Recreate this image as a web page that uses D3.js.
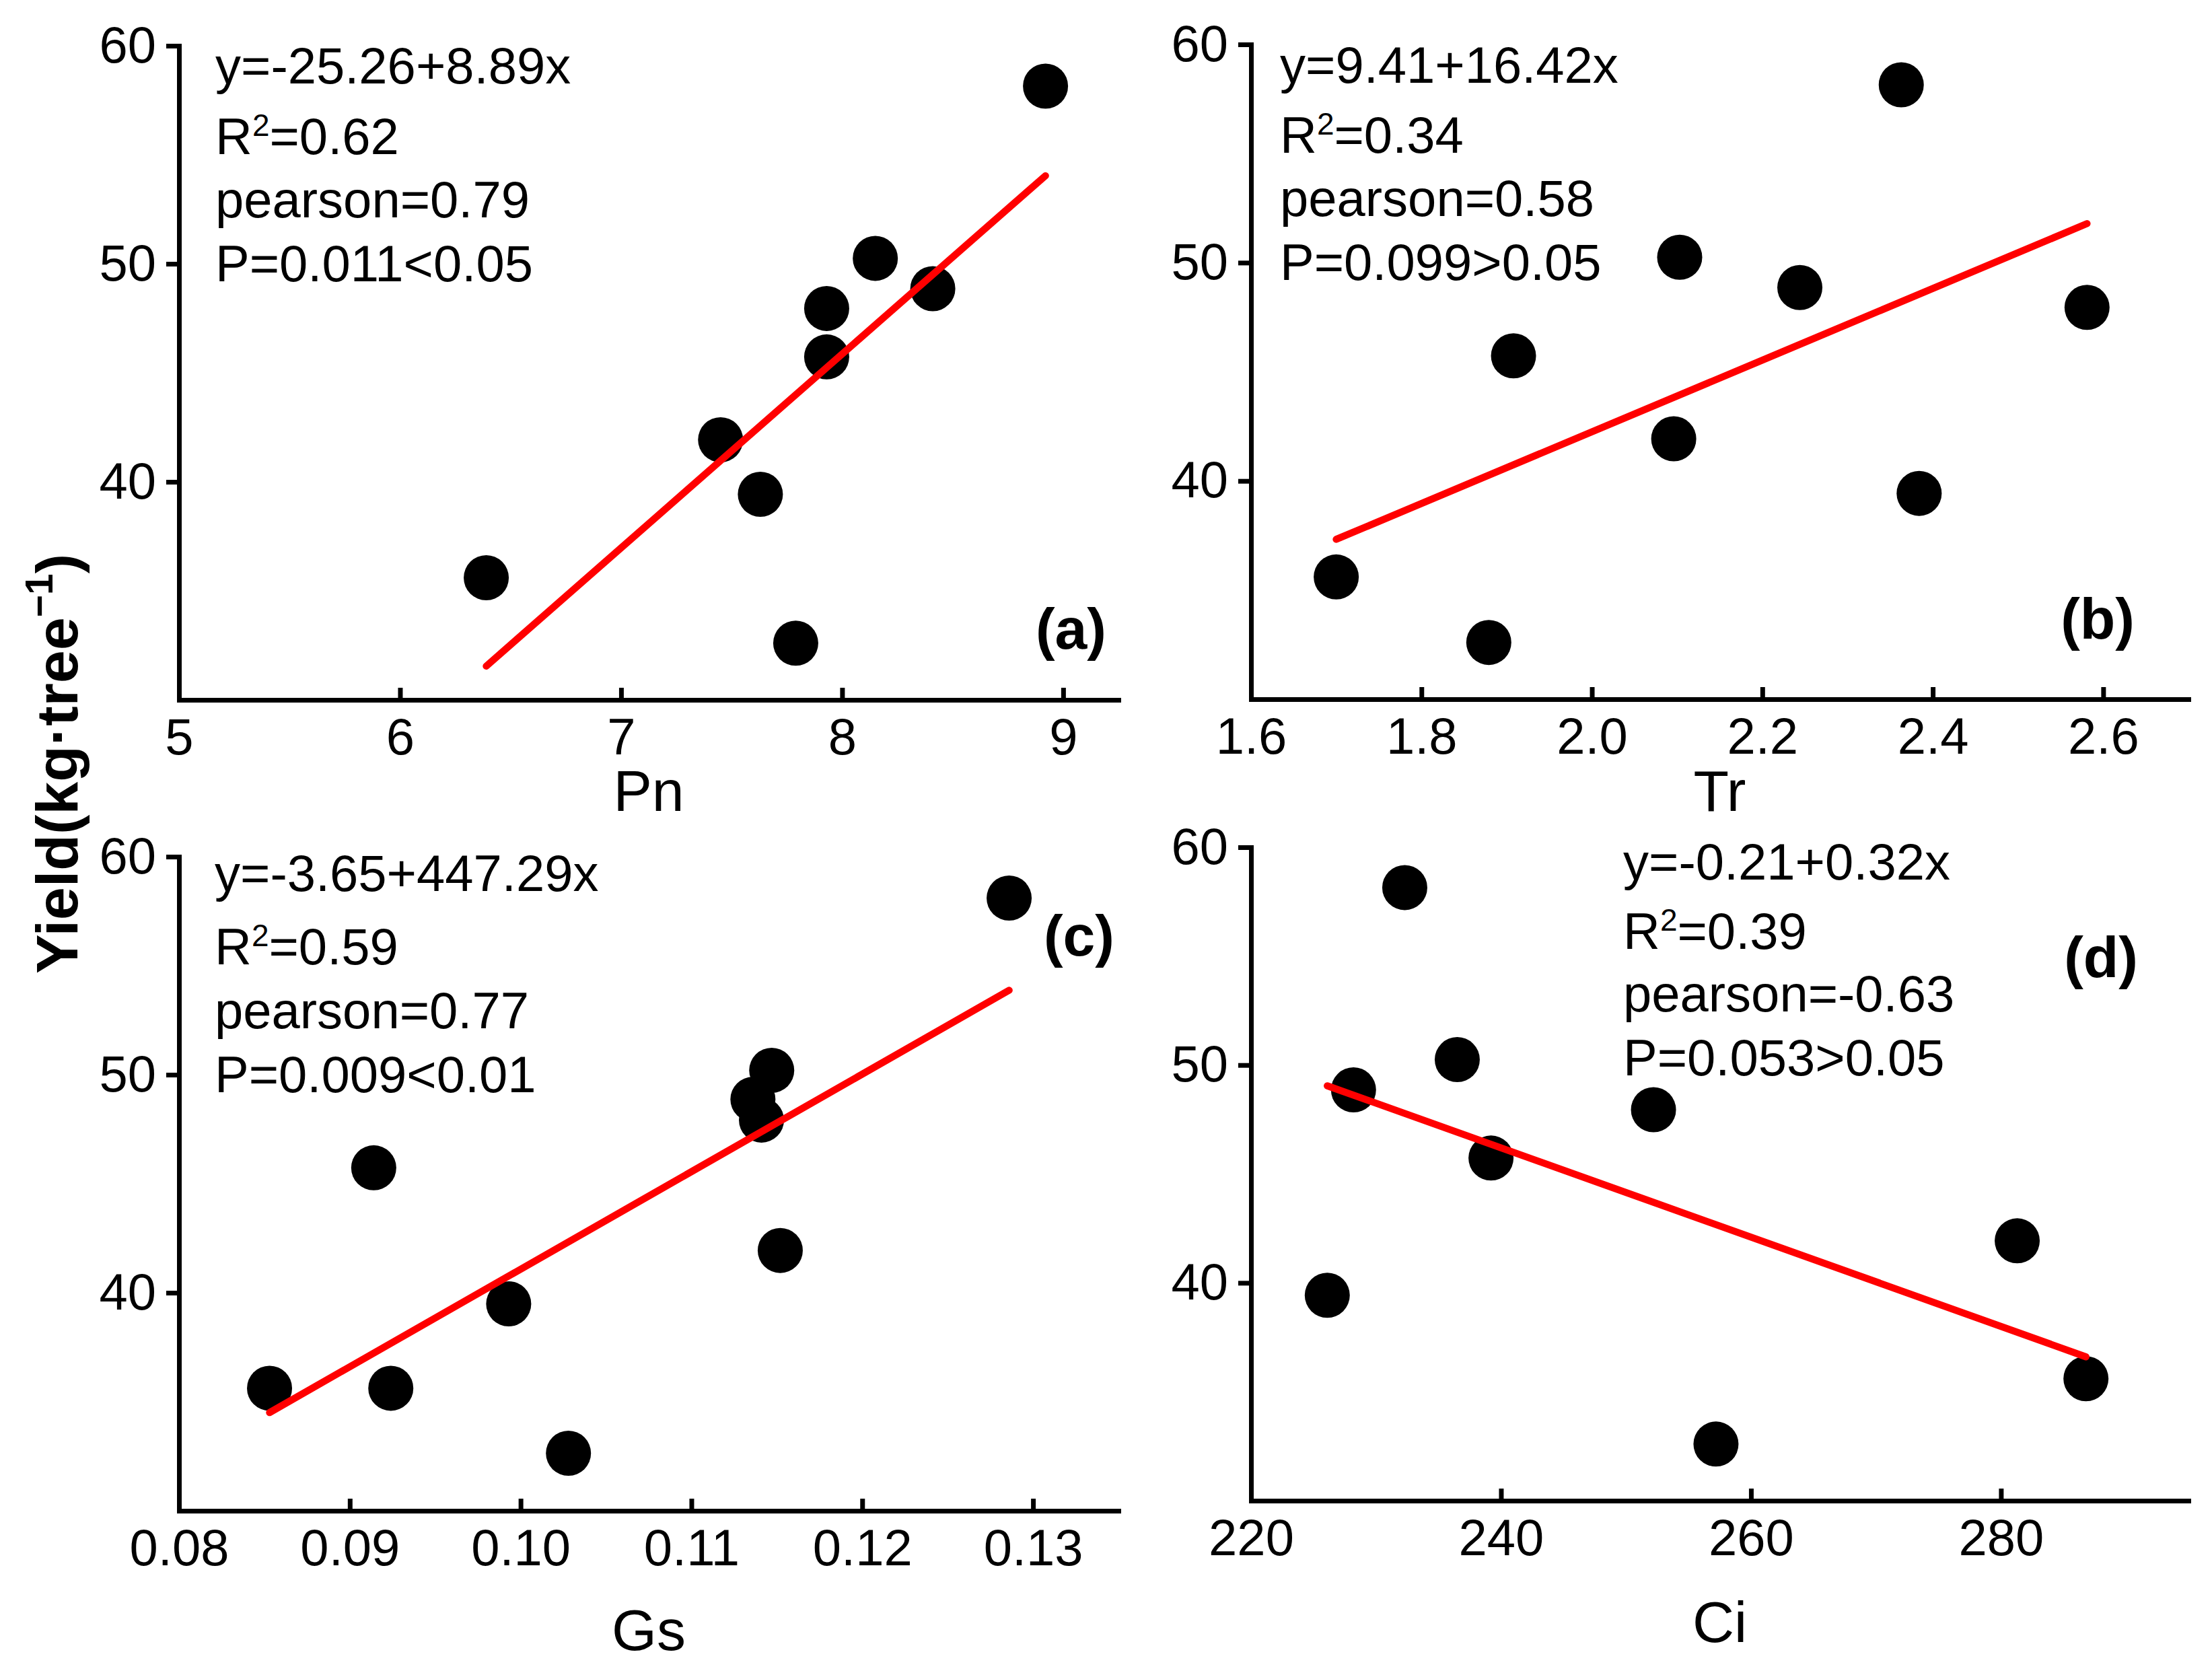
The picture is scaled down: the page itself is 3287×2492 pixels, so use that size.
<!DOCTYPE html>
<html>
  <head>
    <meta charset="utf-8">
    <script src="https://d3js.org/d3.v7.min.js"></script>
    <style>
      body { margin: 0; background: white; }
      svg { display: block; font-family: "Liberation Sans", Arial, sans-serif; }
      .axis path, .axis line { stroke: black; stroke-width: 7px; }
      .axis path { stroke-linecap: square; }
      .axis text { font-size: 76px; fill: black; font-family: "Liberation Sans", Arial, sans-serif; }
    </style>
  </head>
  <body>
    <div id="chart"></div>
    <script>
      // yield per tree, shared by panels a, b, d
      var yieldKg = [58.15, 50.25, 48.86, 47.95, 45.73, 41.93, 39.43, 35.6, 32.6];
      var pnVals = [8.92, 8.15, 8.41, 7.93, 7.93, 7.45, 7.63, 6.39, 7.79];
      var trVals = [2.363, 2.103, 2.244, 2.581, 1.908, 2.096, 2.384, 1.700, 1.879];
      var ciVals = [232.3, 236.5, 228.2, 252.2, 239.2, 281.3, 226.1, 286.8, 257.2];
      // panel c shows ten points
      var gsYield = [58.1, 50.2, 48.87, 47.92, 45.73, 41.94, 39.49, 35.62, 35.62, 32.64];
      var gsVals = [0.1286, 0.1147, 0.1136, 0.1141, 0.0914, 0.1152, 0.0993, 0.0853, 0.0924, 0.1028];

      var fitIntercept = [-25.26, 9.41, -3.65, 95.4];
      var fitSlope = [8.89, 16.42, 447.29, -0.205];

      var eqText = ["y=-25.26+8.89x", "y=9.41+16.42x", "y=-3.65+447.29x", "y=-0.21+0.32x"];
      var r2Text = ["=0.62", "=0.34", "=0.59", "=0.39"];
      var pearsonText = ["pearson=0.79", "pearson=0.58", "pearson=0.77", "pearson=-0.63"];
      var pText = ["P=0.011<0.05", "P=0.099>0.05", "P=0.009<0.01", "P=0.053>0.05"];
      var panelTags = ["(a)", "(b)", "(c)", "(d)"];
      var xTitles = ["Pn", "Tr", "Gs", "Ci"];

      var xDomains = [[5, 9.25], [1.6, 2.7], [0.08, 0.135], [220, 295]];
      var xTickVals = [
        [5, 6, 7, 8, 9],
        [1.6, 1.8, 2.0, 2.2, 2.4, 2.6],
        [0.08, 0.09, 0.10, 0.11, 0.12, 0.13],
        [220, 240, 260, 280]
      ];
      var xTickFormats = ["d", ".1f", ".2f", "d"];
      var yDomain = [30, 60];
      var yTickVals = [40, 50, 60];

      var panelX = [pnVals, trVals, gsVals, ciVals];
      var panelY = [yieldKg, yieldKg, gsYield, yieldKg];

      var width = 3287, height = 2492;

      var layout = [
        {left: 266, right: 1662, top: 68, bottom: 1040, textX: 320, textDy: [56, 161, 255, 350], tagX: 1644, tagY: 964, titleY: 1205},
        {left: 1859, right: 3252, top: 66, bottom: 1039, textX: 1902, textDy: [57, 161, 255, 350], tagX: 3172, tagY: 949, titleY: 1205},
        {left: 266, right: 1662, top: 1273, bottom: 2245, textX: 319, textDy: [51, 160, 255, 350], tagX: 1656, tagY: 1420, titleY: 2452},
        {left: 1859, right: 3252, top: 1259, bottom: 2230, textX: 2412, textDy: [48, 151, 244, 339], tagX: 3177, tagY: 1452, titleY: 2440}
      ];

      var svg = d3.select('#chart').append('svg')
        .attr('width', width)
        .attr('height', height)
        .style('background', 'white');

      layout.forEach(function (L, i) {
        var x = d3.scaleLinear().domain(xDomains[i]).range([L.left, L.right]);
        var y = d3.scaleLinear().domain(yDomain).range([L.bottom, L.top]);
        var g = svg.append('g');

        g.append('g')
          .attr('class', 'axis')
          .attr('transform', 'translate(0,' + L.bottom + ')')
          .call(d3.axisBottom(x)
            .tickValues(xTickVals[i])
            .tickFormat(d3.format(xTickFormats[i]))
            .tickSizeInner(-18)
            .tickSizeOuter(0)
            .tickPadding(27));

        g.append('g')
          .attr('class', 'axis')
          .attr('transform', 'translate(' + L.left + ',0)')
          .call(d3.axisLeft(y)
            .tickValues(yTickVals)
            .tickFormat(d3.format('d'))
            .tickSizeInner(19)
            .tickSizeOuter(0)
            .tickPadding(15));

        var pts = panelX[i].map(function (v, j) { return [v, panelY[i][j]]; });

        g.selectAll('circle')
          .data(pts).enter()
          .append('circle')
          .attr('cx', function (d) { return x(d[0]); })
          .attr('cy', function (d) { return y(d[1]); })
          .attr('r', 33.5)
          .attr('fill', 'black');

        var ext = d3.extent(panelX[i]);
        var fit = ext.map(function (v) { return [v, fitIntercept[i] + fitSlope[i] * v]; });
        g.append('path')
          .datum(fit)
          .attr('d', d3.line().x(function (d) { return x(d[0]); }).y(function (d) { return y(d[1]); }))
          .attr('stroke', '#ff0000')
          .attr('stroke-width', 10.5)
          .attr('stroke-linecap', 'round')
          .attr('fill', 'none');

        var t = g.append('g').attr('font-size', 76).attr('fill', 'black');
        t.append('text').attr('x', L.textX).attr('y', L.top + L.textDy[0]).text(eqText[i]);
        var r2 = t.append('text').attr('x', L.textX).attr('y', L.top + L.textDy[1]);
        r2.append('tspan').text('R');
        r2.append('tspan').attr('font-size', 46).attr('dy', -27).text('2');
        r2.append('tspan').attr('font-size', 76).attr('dy', 27).text(r2Text[i]);
        t.append('text').attr('x', L.textX).attr('y', L.top + L.textDy[2]).text(pearsonText[i]);
        t.append('text').attr('x', L.textX).attr('y', L.top + L.textDy[3]).text(pText[i]);

        g.append('text')
          .attr('x', L.tagX)
          .attr('y', L.tagY)
          .attr('text-anchor', 'end')
          .attr('font-size', 86)
          .attr('font-weight', 'bold')
          .text(panelTags[i]);

        g.append('text')
          .attr('x', (L.left + L.right) / 2)
          .attr('y', L.titleY)
          .attr('text-anchor', 'middle')
          .attr('font-size', 86)
          .text(xTitles[i]);
      });

      var yl = svg.append('text')
        .attr('transform', 'translate(115,1135) rotate(-90)')
        .attr('text-anchor', 'middle')
        .attr('font-size', 88)
        .attr('font-weight', 'bold');
      yl.append('tspan').text('Yield(kg\u00b7tree');
      yl.append('tspan').attr('font-size', 57).attr('dy', -37).text('\u22121');
      yl.append('tspan').attr('font-size', 88).attr('dy', 37).text(')');
    </script>
  </body>
</html>
